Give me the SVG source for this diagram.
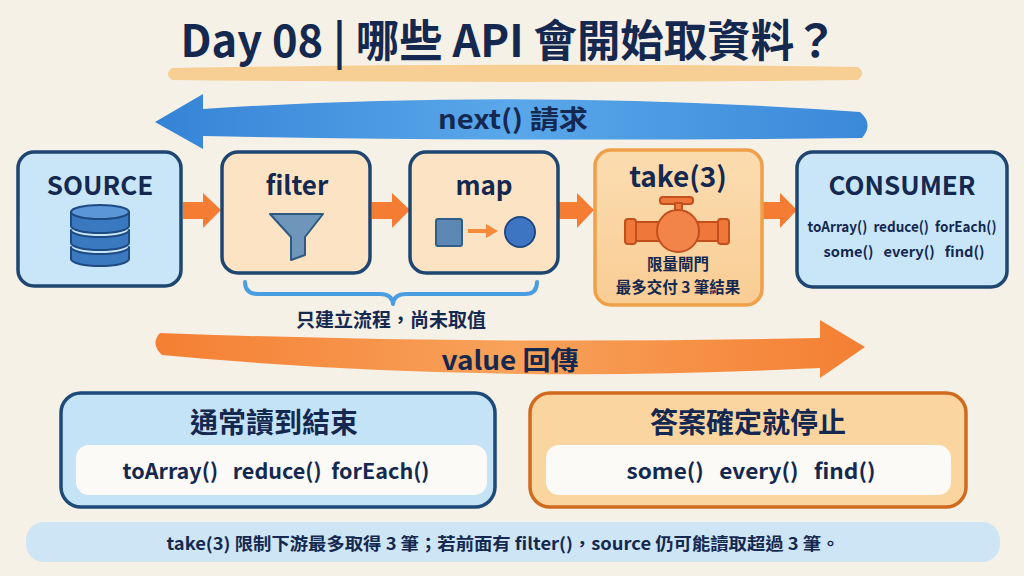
<svg xmlns="http://www.w3.org/2000/svg" width="1024" height="576" viewBox="0 0 1024 576">
<defs>
<style>
text{font-family:"Noto Sans CJK TC","Noto Sans",sans-serif;font-weight:700;fill:#142850;text-anchor:middle}
.box{stroke-width:3.5}
.blue{fill:#c9e6f8;stroke:#1e4670}
.peach{fill:#fbe3c3;stroke:#1e4670}
.oarrow{fill:#f47d33}
.icon{stroke-width:2;stroke-linejoin:round}
</style>
<linearGradient id="gBlue" x1="0" y1="0" x2="1" y2="0">
<stop offset="0" stop-color="#3583d6"/><stop offset="0.5" stop-color="#5aa7ea"/><stop offset="1" stop-color="#3a89d9"/>
</linearGradient>
<linearGradient id="gOrange" x1="0" y1="0" x2="1" y2="0">
<stop offset="0" stop-color="#f47f33"/><stop offset="0.5" stop-color="#f8a25a"/><stop offset="1" stop-color="#f47f33"/>
</linearGradient>
<linearGradient id="gTake" x1="0" y1="0" x2="0" y2="1">
<stop offset="0" stop-color="#fbdcb0"/><stop offset="1" stop-color="#f9cd94"/>
</linearGradient>
</defs>
<rect width="1024" height="576" fill="#f6f1e7"/>

<g id="title">
<path d="M172,68 Q520,62 858,67 Q866,73 858,80 Q520,84 172,80 Q164,74 172,68 Z" fill="#f7c985" opacity="0.85"/>
<text x="509" y="57" font-size="44" textLength="657" lengthAdjust="spacingAndGlyphs">Day 08 | 哪些 API 會開始取資料？</text>
</g>

<g id="connectors">
<path id="next-arrow" d="M155,122 L203,94 L203,109 Q520,88 860,112 Q874,124 862,138 Q520,142 203,136 L203,149 Z" fill="url(#gBlue)"/>
<text x="513" y="129" font-size="26" textLength="150" lengthAdjust="spacingAndGlyphs">next() 請求</text>
<path id="value-arrow" d="M160,333 Q480,345 820,338 L820,320 L865,347 L820,378 L820,368 Q480,385 162,355 Q150,344 160,333 Z" fill="url(#gOrange)"/>
<text x="510" y="370" font-size="26" textLength="137" lengthAdjust="spacingAndGlyphs">value 回傳</text>
<path class="oarrow" d="M183,202 L203,202 L203,193 L221,210 L203,228 L203,219 L183,219 Z"/>
<path class="oarrow" d="M372,202 L392,202 L392,193 L410,210 L392,228 L392,219 L372,219 Z"/>
<path class="oarrow" d="M559,202 L577,202 L577,193 L594,210 L577,228 L577,219 L559,219 Z"/>
<path class="oarrow" d="M763,202 L780,202 L780,193 L797,210 L780,228 L780,219 L763,219 Z"/>
<path id="brace" d="M245,282 Q245,294 258,294 L380,294 Q392,294 393,304 Q394,294 406,294 L525,294 Q537,294 537,282" fill="none" stroke="#4a9de0" stroke-width="4" stroke-linecap="round" stroke-linejoin="round"/>
<text x="391" y="327" font-size="19">只建立流程，尚未取值</text>
</g>

<g id="source">
<rect class="box blue" x="18" y="152" width="163" height="134" rx="16"/>
<text x="100" y="195" font-size="26">SOURCE</text>
<g class="icon" fill="#3a78c0" stroke="#1d4a80">
<path d="M71,212 L71,226 A29,7 0 0 0 129,226 L129,212 Z"/>
<ellipse cx="100" cy="212" rx="29" ry="7" fill="#5b96d8"/>
<path d="M71,230 A29,7 0 0 0 129,230 L129,243 A29,7 0 0 1 71,243 Z"/>
<path d="M71,247 A29,7 0 0 0 129,247 L129,259 A29,7 0 0 1 71,259 Z"/>
</g>
</g>

<g id="filter">
<rect class="box peach" x="222" y="152" width="148" height="121" rx="16"/>
<text x="297" y="195" font-size="26">filter</text>
<path class="icon" d="M270,214 L323,214 L305,237 L305,255 L291,260 L291,237 Z" fill="#6e96ba" stroke="#2e5a82" stroke-width="2.5"/>
</g>

<g id="map">
<rect class="box peach" x="410" y="152" width="148" height="121" rx="16"/>
<text x="484" y="195" font-size="26">map</text>
<rect class="icon" x="436" y="219" width="26" height="27" rx="2" fill="#5d88b3" stroke="#2f5e86"/>
<path d="M468,231 L488,231" stroke="#f48a3a" stroke-width="4"/>
<path d="M486,224 L498,231 L486,238 Z" fill="#f48a3a"/>
<circle class="icon" cx="520" cy="232" r="15" fill="#3e75c2" stroke="#1f4a80" stroke-width="2.5"/>
</g>

<g id="take">
<rect class="box" x="595" y="150" width="167" height="155" rx="16" fill="url(#gTake)" stroke="#f0a04a"/>
<text x="678" y="187" font-size="28">take(3)</text>
<g class="icon" fill="#f0773a" stroke="#c24f1c">
<rect x="660" y="197" width="33" height="7" rx="3"/>
<rect x="675" y="203" width="7" height="10"/>
<rect x="632" y="222" width="30" height="19"/>
<rect x="694" y="222" width="28" height="19"/>
<rect x="625" y="219" width="11" height="25" rx="3"/>
<rect x="718" y="219" width="11" height="25" rx="3"/>
<circle cx="678" cy="231" r="21" fill="#f2844a"/>
</g>
<text x="678" y="270" font-size="15.5">限量閘門</text>
<text x="678" y="293" font-size="15.5">最多交付 3 筆結果</text>
</g>

<g id="consumer">
<rect class="box blue" x="797" y="152" width="210" height="135" rx="16"/>
<text x="902" y="195" font-size="26">CONSUMER</text>
<text x="902" y="232" font-size="14.5" xml:space="preserve" textLength="189" lengthAdjust="spacingAndGlyphs">toArray()  reduce()  forEach()</text>
<text x="904" y="257" font-size="14.5" xml:space="preserve" textLength="161" lengthAdjust="spacingAndGlyphs">some()   every()   find()</text>
</g>

<g id="usually-read-to-end">
<rect x="61" y="393" width="434" height="114" rx="20" fill="#c5e3f6" stroke="#1e4a78" stroke-width="3.5"/>
<text x="274" y="433" font-size="28">通常讀到結束</text>
<rect x="76" y="445" width="411" height="50" rx="13" fill="#fbfaf6"/>
<text x="276" y="479" font-size="21" xml:space="preserve" textLength="307" lengthAdjust="spacingAndGlyphs">toArray()   reduce()  forEach()</text>
</g>

<g id="stop-when-known">
<rect x="530" y="393" width="436" height="114" rx="20" fill="#fbd5a0" stroke="#cf6a1f" stroke-width="3.5"/>
<text x="748" y="433" font-size="28">答案確定就停止</text>
<rect x="546" y="445" width="405" height="50" rx="13" fill="#fbfaf6"/>
<text x="751" y="479" font-size="21" xml:space="preserve" textLength="249" lengthAdjust="spacingAndGlyphs">some()   every()   find()</text>
</g>

<g id="note">
<rect x="26" y="522" width="974" height="40" rx="18" fill="#cde5f5"/>
<text x="503" y="550" font-size="17" textLength="673" lengthAdjust="spacingAndGlyphs">take(3) 限制下游最多取得 3 筆；若前面有 filter()，source 仍可能讀取超過 3 筆。</text>
</g>
</svg>
